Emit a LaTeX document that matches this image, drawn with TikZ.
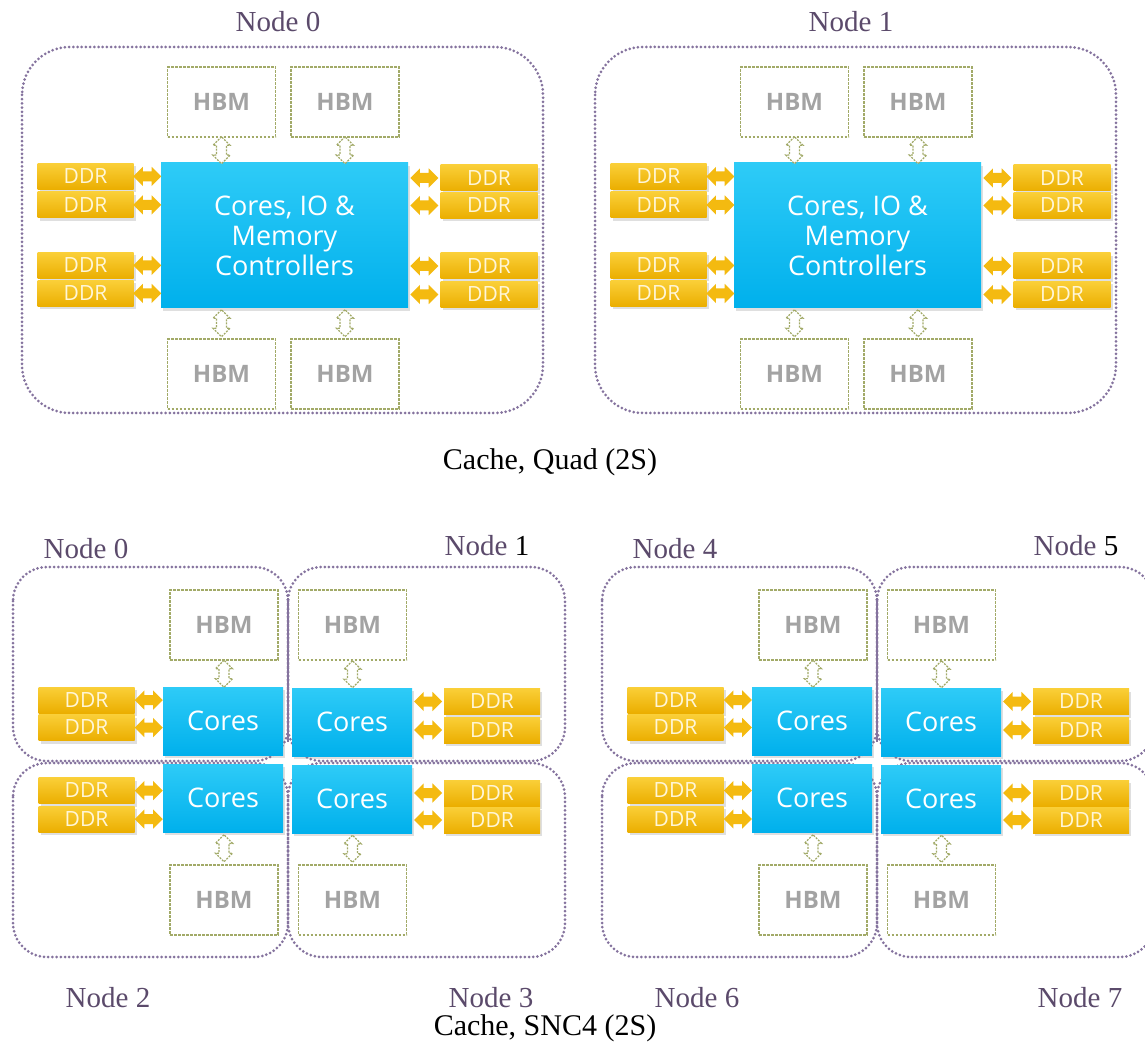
\documentclass[tikz,border=0pt]{standalone}
\usepackage{fontspec}
\setmainfont{Liberation Serif}
\newfontfamily\boxfont{Open Sans}
\usetikzlibrary{shapes.arrows,shadows,calc}

\definecolor{nodeline}{HTML}{85739E}
\definecolor{nodetext}{HTML}{5B4A6B}
\definecolor{hbmline}{HTML}{A2AA68}
\definecolor{hbmtext}{HTML}{A3A3A3}
\definecolor{coretop}{HTML}{2ECBF7}
\definecolor{corebot}{HTML}{00B0EC}
\definecolor{ddrtop}{HTML}{FACF38}
\definecolor{ddrbot}{HTML}{EBAE00}
\definecolor{ddrtext}{HTML}{FFF6D8}
\definecolor{arrowgold}{HTML}{F4BA10}

\tikzset{
  numa/.style={draw=nodeline, line width=1.5pt, line cap=round, dash pattern=on 0pt off 2.1pt},
  numalabel/.style={text=nodetext, inner sep=0pt, font=\fontsize{14.5}{16}\selectfont},
  caption/.style={text=black, inner sep=0pt, font=\fontsize{15}{17}\selectfont},
  hbm/.style={draw=hbmline, line width=0.8pt, dash pattern=on 1.3pt off 0.7pt, fill=white,
    minimum width=54pt, minimum height=35pt, inner sep=0pt, text=hbmtext,
    font=\boxfont\bfseries\fontsize{12}{14}\selectfont},
  core/.style={top color=coretop, bottom color=corebot, draw=none, inner sep=0pt, text=white,
    align=center, font=\boxfont\fontsize{13.5}{15}\selectfont,
    drop shadow={shadow xshift=1pt, shadow yshift=-1.5pt, opacity=0.25}},
  ddr/.style={top color=ddrtop, bottom color=ddrbot, draw=none, minimum width=48pt, minimum height=13pt,
    inner sep=0pt, text=ddrtext, font=\boxfont\fontsize{10.5}{11}\selectfont,
    drop shadow={shadow xshift=1pt, shadow yshift=-1.5pt, opacity=0.25}},
  goldarrow/.style={double arrow, fill=arrowgold, draw=none, minimum height=14pt, minimum width=0pt,
    inner xsep=0pt, inner ysep=2.3pt, double arrow head extend=2.3pt, double arrow head indent=0pt},
  hbmarrow/.style={double arrow, shape border rotate=90, fill=white, draw=hbmline, line width=0.6pt,
    dash pattern=on 1pt off 0.6pt, minimum height=13.5pt, minimum width=0pt,
    inner sep=2.2pt, double arrow head extend=1.8pt}
}

\begin{document}
\begin{tikzpicture}[x=0.5pt,y=-0.5pt]
\useasboundingbox (0,0) rectangle (1145,1042);
\clip (0,0) rectangle (1145,1042);
\fill[white] (0,0) rectangle (1145,1042);

% ---------- Quad mode: one NUMA node per socket ----------
\foreach \ox/\p/\n in {0/A/0,573/B/1}{
  \begin{scope}[xshift=\ox*0.5pt]
    \draw[numa, rounded corners=24pt] (22,47) rectangle (543,413);
    \node[numalabel] (lab\p) at (278,22) {Node \n};

    \node[core, minimum width=123.5pt, minimum height=72.5pt] (cpu\p) at (284.5,235.5)
      {Cores, IO \&\\Memory\\Controllers};

    \node[hbm] (hta\p) at (221.5,102) {HBM};
    \node[hbm] (htb\p) at (345,102) {HBM};
    \node[hbm] (hba\p) at (221.5,374) {HBM};
    \node[hbm] (hbb\p) at (345,374) {HBM};

    \node[ddr] (dla\p) at (85.5,176.5) {DDR};
    \node[ddr] (dlb\p) at (85.5,205) {DDR};
    \node[ddr] (dlc\p) at (85.5,265.5) {DDR};
    \node[ddr] (dld\p) at (85.5,293.5) {DDR};
    \node[ddr, minimum width=48.5pt] (dra\p) at (489,178) {DDR};
    \node[ddr, minimum width=48.5pt] (drb\p) at (489,205.5) {DDR};
    \node[ddr, minimum width=48.5pt] (drc\p) at (489,266) {DDR};
    \node[ddr, minimum width=48.5pt] (drd\p) at (489,294.5) {DDR};

    % DDR links
    \foreach \d in {a,b,c,d}{
      \node[goldarrow] (gl\d\p) at ($(dl\d\p.east)!0.5!(dl\d\p.east -| cpu\p.west)$) {};
      \node[goldarrow] (gr\d\p) at ($(dr\d\p.west)!0.5!(dr\d\p.west -| cpu\p.east)$) {};
    }
    % HBM links
    \node[hbmarrow] (vta\p) at ($(hta\p.south)!0.5!(hta\p.south |- cpu\p.north)$) {};
    \node[hbmarrow] (vtb\p) at ($(htb\p.south)!0.5!(htb\p.south |- cpu\p.north)$) {};
    \node[hbmarrow] (vba\p) at ($(hba\p.north)!0.5!(hba\p.north |- cpu\p.south)$) {};
    \node[hbmarrow] (vbb\p) at ($(hbb\p.north)!0.5!(hbb\p.north |- cpu\p.south)$) {};
  \end{scope}
}
\node[caption] (capquad) at (550,462) {Cache, Quad (2S)};

% ---------- SNC4 mode: four NUMA nodes per socket ----------
\foreach \ox/\p/\na/\nb/\nc/\nd in {0/L/0/1/2/3,589/R/4/5/6/7}{
  \begin{scope}[xshift=\ox*0.5pt]
    \draw[numa, rounded corners=17pt] (13,567) rectangle (288,761);
    \draw[numa, rounded corners=17pt] (288,567) rectangle (565,761);
    \draw[numa, rounded corners=17pt] (13,763) rectangle (288,957);
    \draw[numa, rounded corners=17pt] (288,763) rectangle (565,957);
    % shared edge of the two upper sub-NUMA nodes
    \draw[nodeline, line width=1pt] (288,598) -- (288,742);
    \node[numalabel] (qa\p) at (86,549) {Node \na};
    \node[numalabel] (qb\p) at (487,546) {Node {\color{black}\nb}};
    \node[numalabel] (qc\p) at (108,998) {Node \nc};
    \node[numalabel] (qd\p) at (491,998) {Node \nd};

    \node[hbm] (sht\p) at (224,625) {HBM};
    \node[hbm] (shu\p) at (352.5,625) {HBM};
    \node[hbm] (shb\p) at (224,900) {HBM};
    \node[hbm] (shc\p) at (352.5,900) {HBM};

    \node[core, minimum width=60pt, minimum height=34pt] (ctl\p) at (223,721) {Cores};
    \node[core, minimum width=60pt, minimum height=34pt] (ctr\p) at (352,722) {Cores};
    \node[core, minimum width=60pt, minimum height=34pt] (cbl\p) at (223,798) {Cores};
    \node[core, minimum width=60pt, minimum height=34pt] (cbr\p) at (352,799) {Cores};

    \node[ddr] (sla\p) at (86.5,700) {DDR};
    \node[ddr] (slb\p) at (86.5,727.5) {DDR};
    \node[ddr] (slc\p) at (86.5,790.5) {DDR};
    \node[ddr] (sld\p) at (86.5,819) {DDR};
    \node[ddr] (sra\p) at (492,701.5) {DDR};
    \node[ddr] (srb\p) at (492,730) {DDR};
    \node[ddr] (src\p) at (492,793) {DDR};
    \node[ddr] (srd\p) at (492,820) {DDR};

    % DDR links
    \node[goldarrow] at ($(sla\p.east)!0.5!(sla\p.east -| ctl\p.west)$) {};
    \node[goldarrow] at ($(slb\p.east)!0.5!(slb\p.east -| ctl\p.west)$) {};
    \node[goldarrow] at ($(slc\p.east)!0.5!(slc\p.east -| cbl\p.west)$) {};
    \node[goldarrow] at ($(sld\p.east)!0.5!(sld\p.east -| cbl\p.west)$) {};
    \node[goldarrow] at ($(sra\p.west)!0.5!(sra\p.west -| ctr\p.east)$) {};
    \node[goldarrow] at ($(srb\p.west)!0.5!(srb\p.west -| ctr\p.east)$) {};
    \node[goldarrow] at ($(src\p.west)!0.5!(src\p.west -| cbr\p.east)$) {};
    \node[goldarrow] at ($(srd\p.west)!0.5!(srd\p.west -| cbr\p.east)$) {};

    % HBM links
    \node[hbmarrow] at ($(sht\p.south)!0.5!(sht\p.south |- ctl\p.north)$) {};
    \node[hbmarrow] at ($(shu\p.south)!0.5!(shu\p.south |- ctr\p.north)$) {};
    \node[hbmarrow] at ($(shb\p.north)!0.5!(shb\p.north |- cbl\p.south)$) {};
    \node[hbmarrow] at ($(shc\p.north)!0.5!(shc\p.north |- cbr\p.south)$) {};
  \end{scope}
}
\node[caption] (capsnc) at (545,1028) {Cache, SNC4 (2S)};
\end{tikzpicture}
\end{document}
